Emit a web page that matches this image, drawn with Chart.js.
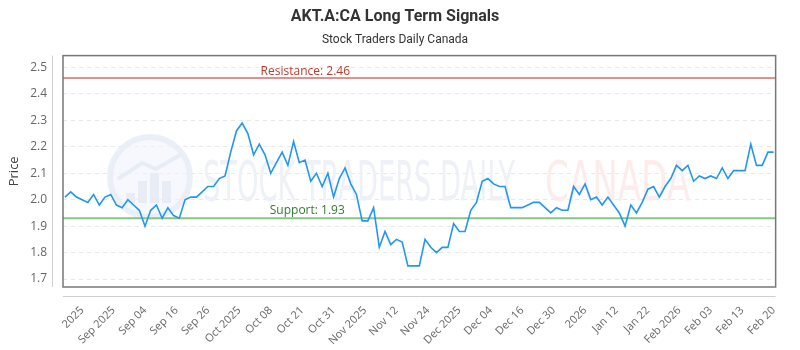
<!DOCTYPE html>
<html>
<head>
<meta charset="utf-8">
<title>AKT.A:CA Long Term Signals</title>
<script src="https://cdn.jsdelivr.net/npm/chart.js@4/dist/chart.umd.min.js"></script>
<style>
  html, body { margin: 0; padding: 0; background: #fff; }
  #wrap { width: 800px; height: 350px; }
</style>
</head>
<body>
<div id="wrap"><canvas id="chart" width="800" height="350"></canvas></div>
<script>
// x axis tick labels (shown evenly along the series)
const tickLabels = ['2025', 'Sep 2025', 'Sep 04', 'Sep 16', 'Sep 26', 'Oct 2025', 'Oct 08', 'Oct 21',
  'Oct 31', 'Nov 2025', 'Nov 12', 'Nov 24', 'Dec 2025', 'Dec 04', 'Dec 16', 'Dec 30', '2026',
  'Jan 12', 'Jan 22', 'Feb 2026', 'Feb 03', 'Feb 13', 'Feb 20'];

// daily closes
const prices = [
  2.01, 2.03, 2.01, 2.00, 1.99, 2.02, 1.98, 2.01, 2.02, 1.98, 1.97, 2.00, 1.98, 1.96, 1.90, 1.96,
  1.98, 1.93, 1.97, 1.94, 1.93, 2.00, 2.01, 2.01, 2.03,
  2.05, 2.05, 2.08, 2.09, 2.18, 2.26, 2.29, 2.25, 2.17, 2.21, 2.17, 2.10, 2.14, 2.18, 2.13, 2.22,
  2.14, 2.15, 2.07, 2.10, 2.05, 2.10, 2.01, 2.08,
  2.12, 2.06, 2.02, 1.92, 1.92, 1.97, 1.82, 1.88, 1.83, 1.85, 1.84, 1.75, 1.75, 1.75, 1.85, 1.82,
  1.80, 1.82, 1.82, 1.91, 1.88, 1.88, 1.96, 1.99, 2.07,
  2.08, 2.06, 2.05, 2.05, 1.97, 1.97, 1.97, 1.98, 1.99, 1.99, 1.97, 1.95, 1.97, 1.96, 1.96, 2.05,
  2.02, 2.06, 2.00, 2.01, 1.98, 2.01, 1.98, 1.95, 1.90,
  1.98, 1.95, 1.99, 2.04, 2.05, 2.01, 2.05, 2.08, 2.13, 2.11, 2.13, 2.07, 2.09, 2.08, 2.09, 2.08,
  2.12, 2.08, 2.11, 2.11, 2.11, 2.21, 2.13, 2.13, 2.18, 2.18
];

const yTicks = [1.7, 1.8, 1.9, 2.0, 2.1, 2.2, 2.3, 2.4, 2.5];
const resistance = 2.46;
const support = 1.93;

const lastIdx = prices.length - 1;
// first tick sits 3 points in, last tick on the last point
const tickStart = 3;
const tickStep = (lastIdx - tickStart) / (tickLabels.length - 1);

const frame = {
  id: 'frame',
  beforeDatasetsDraw(chart) {
    const { ctx, chartArea: a } = chart;
    ctx.save();
    // faint watermark
    const cx = a.left + 87, cy = 177;
    ctx.beginPath();
    ctx.arc(cx, cy, 40, 0, Math.PI * 2);
    ctx.fillStyle = 'rgba(240,244,251,0.6)';
    ctx.fill();
    ctx.lineWidth = 6;
    ctx.strokeStyle = 'rgba(230,236,246,0.8)';
    ctx.stroke();
    ctx.fillStyle = 'rgba(228,234,244,0.8)';
    [[-24, 10], [-12, 22], [0, 30], [12, 22]].forEach(([dx, h]) => {
      ctx.fillRect(cx + dx, cy + 26 - h, 9, h);
    });
    ctx.beginPath();
    ctx.moveTo(cx - 32, cy + 2);
    ctx.lineTo(cx - 8, cy - 14);
    ctx.lineTo(cx + 6, cy - 8);
    ctx.lineTo(cx + 30, cy - 22);
    ctx.lineWidth = 4;
    ctx.strokeStyle = 'rgba(228,234,244,0.8)';
    ctx.stroke();

    const drawStretched = (txt, left, right, color) => {
      ctx.font = '56px "DejaVu Sans Condensed", "DejaVu Sans", sans-serif';
      const w = ctx.measureText(txt).width;
      ctx.save();
      ctx.translate(left, 200);
      ctx.scale((right - left) / w, 1);
      ctx.fillStyle = color;
      ctx.textBaseline = 'alphabetic';
      ctx.textAlign = 'left';
      ctx.fillText(txt, 0, 0);
      ctx.restore();
    };
    drawStretched('STOCK TRADERS DAILY', a.left + 140, a.left + 452, '#eef1f7');
    drawStretched('CANADA', a.left + 482, a.left + 627, '#fdecec');
    ctx.restore();
  },
  afterDatasetsDraw(chart) {
    const { ctx, chartArea: a, scales } = chart;
    ctx.save();
    ctx.font = '12px "Open Sans", sans-serif';
    ctx.textAlign = 'center';
    ctx.textBaseline = 'bottom';
    const rx = a.left + 0.34 * (a.right - a.left);
    ctx.fillStyle = '#c0392b';
    ctx.fillText('Resistance: ' + resistance.toFixed(2), rx, scales.y.getPixelForValue(resistance) - 1);
    ctx.fillStyle = '#2e7d32';
    ctx.fillText('Support: ' + support.toFixed(2), rx + 2, scales.y.getPixelForValue(support) - 2);

    // plot box
    ctx.strokeStyle = '#777';
    ctx.lineWidth = 1.5;
    ctx.strokeRect(a.left, a.top, a.right - a.left, a.bottom - a.top);
    // detached axis lines
    ctx.strokeStyle = '#d0d0d0';
    ctx.lineWidth = 1;
    ctx.beginPath();
    ctx.moveTo(a.left - 10.5, a.top);
    ctx.lineTo(a.left - 10.5, a.bottom);
    ctx.moveTo(a.left, a.bottom + 9.5);
    ctx.lineTo(a.right, a.bottom + 9.5);
    ctx.stroke();
    ctx.restore();
  }
};

new Chart(document.getElementById('chart'), {
  type: 'line',
  data: {
    datasets: [{
      label: 'Price',
      data: prices.map((v, i) => ({ x: i, y: v })),
      borderColor: '#2196f3',
      borderWidth: 1.6,
      pointRadius: 0,
      tension: 0
    }, {
      label: 'Resistance',
      data: [{ x: -1, y: resistance }, { x: lastIdx + 1, y: resistance }],
      borderColor: '#dd6b66',
      borderWidth: 1.5,
      pointRadius: 0
    }, {
      label: 'Support',
      data: [{ x: -1, y: support }, { x: lastIdx + 1, y: support }],
      borderColor: '#88c388',
      borderWidth: 2,
      pointRadius: 0
    }]
  },
  options: {
    responsive: false,
    animation: false,
    layout: { padding: { left: 0, right: 10, top: 0, bottom: 0 } },
    plugins: {
      legend: { display: false },
      tooltip: { enabled: false },
      title: {
        display: true,
        text: 'AKT.A:CA Long Term Signals',
        color: '#333',
        font: { family: 'Roboto', size: 16, weight: 'bold' },
        padding: { top: 7, bottom: 4 }
      },
      subtitle: {
        display: true,
        text: 'Stock Traders Daily Canada',
        color: '#333',
        font: { family: 'Roboto', size: 12 },
        padding: { top: 3, bottom: 8 }
      }
    },
    scales: {
      x: {
        type: 'linear',
        min: -0.35,
        max: lastIdx + 0.35,
        afterBuildTicks(scale) {
          scale.ticks = tickLabels.map((t, j) => ({ value: tickStart + j * tickStep }));
        },
        afterFit(scale) { scale.height = 63; },
        grid: { display: false, drawTicks: false },
        border: { display: false },
        ticks: {
          autoSkip: false,
          minRotation: 45,
          maxRotation: 45,
          padding: 17,
          color: '#666',
          font: { family: 'Open Sans', size: 11 },
          callback: (v, i) => tickLabels[i]
        }
      },
      y: {
        min: 1.67,
        max: 2.545,
        afterBuildTicks(scale) {
          scale.ticks = yTicks.map(v => ({ value: v }));
        },
        afterFit(scale) { scale.width = 63; },
        grid: { color: '#e8e8e8', drawTicks: false },
        border: { display: false, dash: [4, 4] },
        ticks: {
          padding: 16,
          color: '#666',
          font: { family: 'Open Sans', size: 12 },
          callback: v => v.toFixed(1)
        },
        title: {
          display: true,
          text: 'Price',
          color: '#444',
          font: { family: 'Open Sans', size: 13 },
          padding: { top: 6, bottom: 0 }
        }
      }
    }
  },
  plugins: [frame]
});
</script>
</body>
</html>
